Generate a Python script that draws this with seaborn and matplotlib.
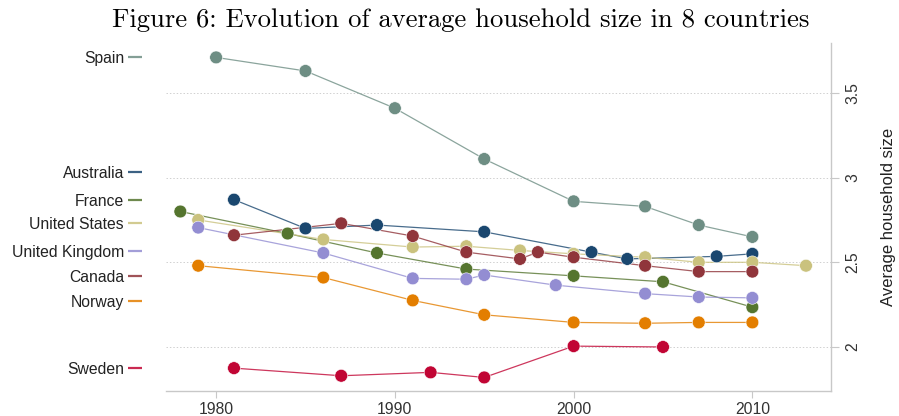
import pandas as pd
import matplotlib.pyplot as plt
import seaborn as sns

# Average household size
countries = ['Spain', 'Australia', 'France', 'United States',
             'United Kingdom', 'Canada', 'Norway', 'Sweden']

years = {
    'Spain': [1980, 1985, 1990, 1995, 2000, 2004, 2007, 2010],
    'Australia': [1981, 1985, 1989, 1995, 2001, 2003, 2008, 2010],
    'France': [1978, 1984, 1989, 1994, 2000, 2005, 2010],
    'United States': [1979, 1986, 1991, 1994, 1997, 2000, 2004, 2007, 2010, 2013],
    'United Kingdom': [1979, 1986, 1991, 1994, 1995, 1999, 2004, 2007, 2010],
    'Canada': [1981, 1987, 1991, 1994, 1997, 1998, 2000, 2004, 2007, 2010],
    'Norway': [1979, 1986, 1991, 1995, 2000, 2004, 2007, 2010],
    'Sweden': [1981, 1987, 1992, 1995, 2000, 2005],
}
sizes = {
    'Spain': [3.71, 3.63, 3.41, 3.11, 2.86, 2.83, 2.72, 2.65],
    'Australia': [2.87, 2.70, 2.72, 2.68, 2.56, 2.52, 2.535, 2.55],
    'France': [2.80, 2.67, 2.555, 2.46, 2.42, 2.385, 2.235],
    'United States': [2.75, 2.635, 2.59, 2.595, 2.57, 2.55, 2.53, 2.50, 2.50, 2.48],
    'United Kingdom': [2.705, 2.555, 2.405, 2.40, 2.425, 2.365, 2.315, 2.295, 2.29],
    'Canada': [2.66, 2.73, 2.655, 2.56, 2.52, 2.56, 2.53, 2.48, 2.445, 2.445],
    'Norway': [2.48, 2.41, 2.275, 2.19, 2.145, 2.14, 2.145, 2.145],
    'Sweden': [1.875, 1.83, 1.85, 1.82, 2.005, 2.0],
}
# where the country names sit on the left
label_pos = [3.71, 3.035, 2.865, 2.73, 2.565, 2.42, 2.27, 1.875]

colors = {
    'Spain': '#6e8e84', 'Australia': '#1a476f', 'France': '#55752f',
    'United States': '#cac27e', 'United Kingdom': '#938dd2',
    'Canada': '#90353b', 'Norway': '#e37e00', 'Sweden': '#c10534',
}

rows = []
for c in countries:
    for y, v in zip(years[c], sizes[c]):
        rows.append({'country': c, 'year': y, 'size': v})
df = pd.DataFrame(rows)

sns.set_style('white')
plt.rcParams['font.family'] = ['Liberation Sans', 'DejaVu Sans']

fig = plt.figure(figsize=(8.99, 4.16), dpi=100)
ax = fig.add_axes([0.1847, 0.0601, 0.7397, 0.8365])

sns.lineplot(data=df, x='year', y='size', hue='country', palette=colors,
             estimator=None, sort=False, linewidth=0.9, alpha=0.8,
             legend=False, ax=ax)
sns.scatterplot(data=df, x='year', y='size', hue='country', palette=colors,
                s=85, edgecolor='white', linewidth=0.4, legend=False,
                ax=ax, zorder=3)

ax.set_xlim(1977.2, 2014.4)
ax.set_ylim(1.74, 3.795)
ax.set_xticks([1980, 1990, 2000, 2010])
ax.set_yticks([2, 2.5, 3, 3.5])
ax.set_yticklabels(['2', '2.5', '3', '3.5'])
ax.yaxis.tick_right()
ax.yaxis.set_label_position('right')
ax.set_xlabel('')
ax.set_ylabel('Average household size', fontsize=12, color='#222222', labelpad=15)

grey = '#c8c8c8'
for s in ['top', 'left']:
    ax.spines[s].set_visible(False)
for s in ['right', 'bottom']:
    ax.spines[s].set_color(grey)
    ax.spines[s].set_linewidth(1.0)

ax.tick_params(axis='x', direction='out', length=5, width=0.8, color=grey,
               labelsize=11.3, labelcolor='#333333', pad=3, bottom=True)
ax.tick_params(axis='y', direction='out', length=6, width=0.8, color=grey,
               labelsize=11.3, labelcolor='#333333', pad=4, right=True, left=False)
for lab in ax.get_yticklabels():
    lab.set_rotation(90)
    lab.set_va('center')

ax.yaxis.grid(True, color='#d0d0d0', linestyle=(0, (1.5, 2)), linewidth=0.7)
ax.xaxis.grid(False)

# country names as a second, offset y axis on the left
sec = ax.secondary_yaxis(-0.036)
sec.set_yticks(label_pos)
sec.set_yticklabels(countries)
sec.spines['left'].set_visible(False)
sec.tick_params(axis='y', direction='out', length=10, width=1.6,
                labelsize=11.3, labelcolor='#222222', pad=3)
for t, c in zip(sec.yaxis.get_major_ticks(), countries):
    t.tick1line.set_markeredgecolor(colors[c])
    t.tick1line.set_alpha(0.85)

fig.text(0.513, 0.952, 'Figure 6: Evolution of average household size in 8 countries',
         family='cmr10', fontsize=19.2, ha='center', va='center', color='black')

plt.savefig('out.png', dpi=100)
